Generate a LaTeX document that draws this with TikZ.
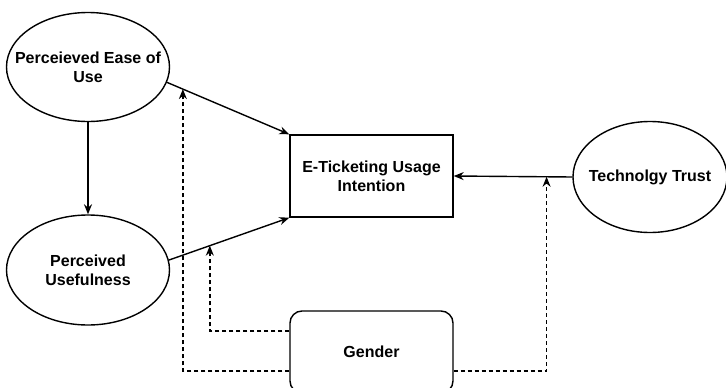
\documentclass[tikz,border=0pt]{standalone}
\usepackage{fontspec}
\setmainfont{Liberation Sans}
\usetikzlibrary{shapes.geometric,arrows.meta,calc}
\begin{document}
\begin{tikzpicture}[x=1pt,y=-1pt,
  lbl/.style={font=\bfseries\fontsize{16}{19}\selectfont, align=center},
  ell/.style={ellipse, draw, line width=1.4pt, inner sep=0pt},
  box/.style={rectangle, draw, line width=1.4pt, inner sep=0pt, lbl},
  arr/.style={line width=1.4pt, -{Stealth[length=10pt,width=8pt]}},
  darr/.style={line width=1.4pt, dash pattern=on 4pt off 3pt, -{Stealth[length=10pt,width=8pt]}}
]
\useasboundingbox (0,0) rectangle (726,388);
\node[ell, minimum width=163pt, minimum height=109pt, label={[lbl]center:Perceieved Ease of\\Use}] (peou) at (88,67) {};
\node[ell, minimum width=163pt, minimum height=110pt, label={[lbl]center:Perceived\\Usefulness}] (pu) at (88,270) {};
\node[box, minimum width=163pt, minimum height=82pt] (eti) at (371.5,176) {E-Ticketing Usage\\Intention};
\node[ell, minimum width=154pt, minimum height=111pt, label={[lbl]center:Technolgy Trust}] (tt) at (650,177) {};
\node[box, rounded corners=12pt, minimum width=163pt, minimum height=82pt] (gender) at (371.5,352) {Gender};

\draw[arr] (peou.south) -- (pu.north);
\draw[arr] (peou.-11) -- (eti.north west);
\draw[arr] (pu.7) -- (eti.south west);
\draw[arr] (tt.west) -- (eti.east);

\coordinate (m1) at ($(pu.7)!0.34!(eti.south west)$);
\coordinate (m2) at ($(peou.-11)!0.13!(eti.north west)$);
\coordinate (m3) at ($(tt.west)!0.217!(eti.east)$);

\draw[darr] ([yshift=21pt]gender.west) -| (m1);
\draw[darr] ([yshift=-19pt]gender.west) -| (m2);
\draw[darr] ([yshift=-19pt]gender.east) -| (m3);
\end{tikzpicture}
\end{document}
